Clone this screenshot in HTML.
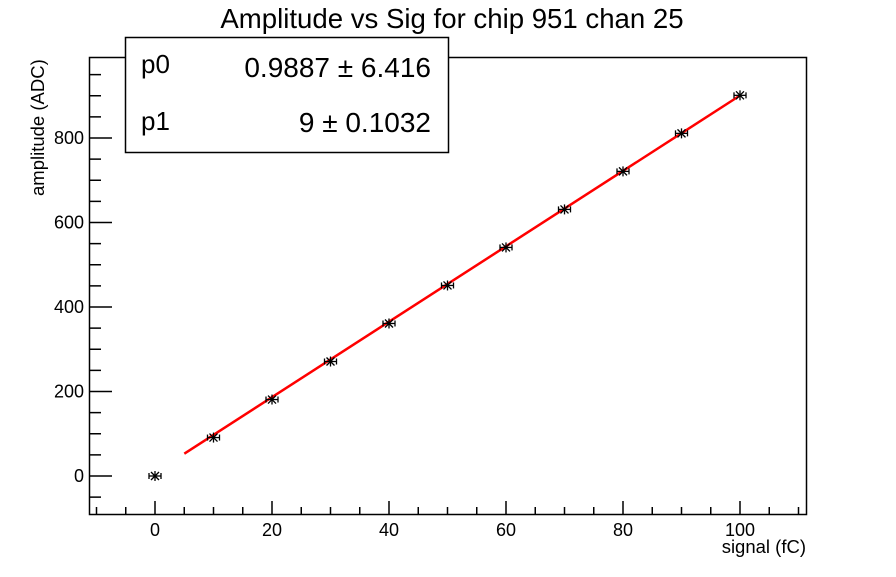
<!DOCTYPE html>
<html><head><meta charset="utf-8"><style>
body{margin:0;background:#fff}
svg text{font-family:"Liberation Sans",sans-serif;fill:#000}
</style></head><body>
<svg width="896" height="572" viewBox="0 0 896 572" xmlns="http://www.w3.org/2000/svg">
<rect width="896" height="572" fill="#fff"/>
<text x="452" y="28" font-size="27.6" text-anchor="middle">Amplitude vs Sig for chip 951 chan 25</text>
<rect x="89.5" y="57.5" width="717" height="457" fill="none" stroke="#000" stroke-width="1.5"/>
<g stroke="#000" stroke-width="1.5" id="ticks"></g>
<g font-size="18" id="labels"></g>
<text x="806" y="553" font-size="18.5" text-anchor="end">signal (fC)</text>
<text transform="translate(44,196) rotate(-90)" font-size="18.5" text-anchor="start">amplitude (ADC)</text>
<polyline points="184.3,453.7 740,95.5" stroke="#f00" stroke-width="2.5" fill="none"/>
<g stroke="#000" stroke-width="1.3" id="pts"></g>
<rect x="125.5" y="37.5" width="323" height="115" fill="#fff" stroke="#000" stroke-width="1.5"/>
<text x="141" y="73" font-size="26">p0</text>
<text x="431" y="77" font-size="28" text-anchor="end">0.9887 ± 6.416</text>
<text x="141" y="130" font-size="26">p1</text>
<text x="431" y="132" font-size="28" text-anchor="end">9 ± 0.1032</text>
</svg>
<script>
const ns="http://www.w3.org/2000/svg";
const X=v=>155+v*5.85, Y=v=>476-v*0.4225;
const t=document.getElementById('ticks'),l=document.getElementById('labels'),p=document.getElementById('pts');
function ln(g,x1,y1,x2,y2){const e=document.createElementNS(ns,'line');e.setAttribute('x1',x1);e.setAttribute('y1',y1);e.setAttribute('x2',x2);e.setAttribute('y2',y2);g.appendChild(e);}
function tx(s,x,y,a){const e=document.createElementNS(ns,'text');e.setAttribute('x',x);e.setAttribute('y',y);e.setAttribute('text-anchor',a);e.textContent=s;l.appendChild(e);}
for(let v=-10;v<=110;v+=5){const x=X(v);const maj=v%20==0;ln(t,x,514,x,maj?501:507);if(maj)tx(v,x,536,'middle');}
for(let v=-50;v<=950;v+=50){const y=Y(v);const maj=v%200==0;ln(t,89.5,y,maj?112:101,y);if(maj)tx(v,84,y+6,'end');}
for(let i=0;i<=10;i++){const x=X(i*10),y=Y(i==0?0:0.9887+90*i);
ln(p,x-6,y,x+6,y);ln(p,x-6,y-3,x-6,y+3);ln(p,x+6,y-3,x+6,y+3);
ln(p,x,y-5,x,y+5);ln(p,x-4,y-4,x+4,y+4);ln(p,x-4,y+4,x+4,y-4);}
</script>
</body></html>
